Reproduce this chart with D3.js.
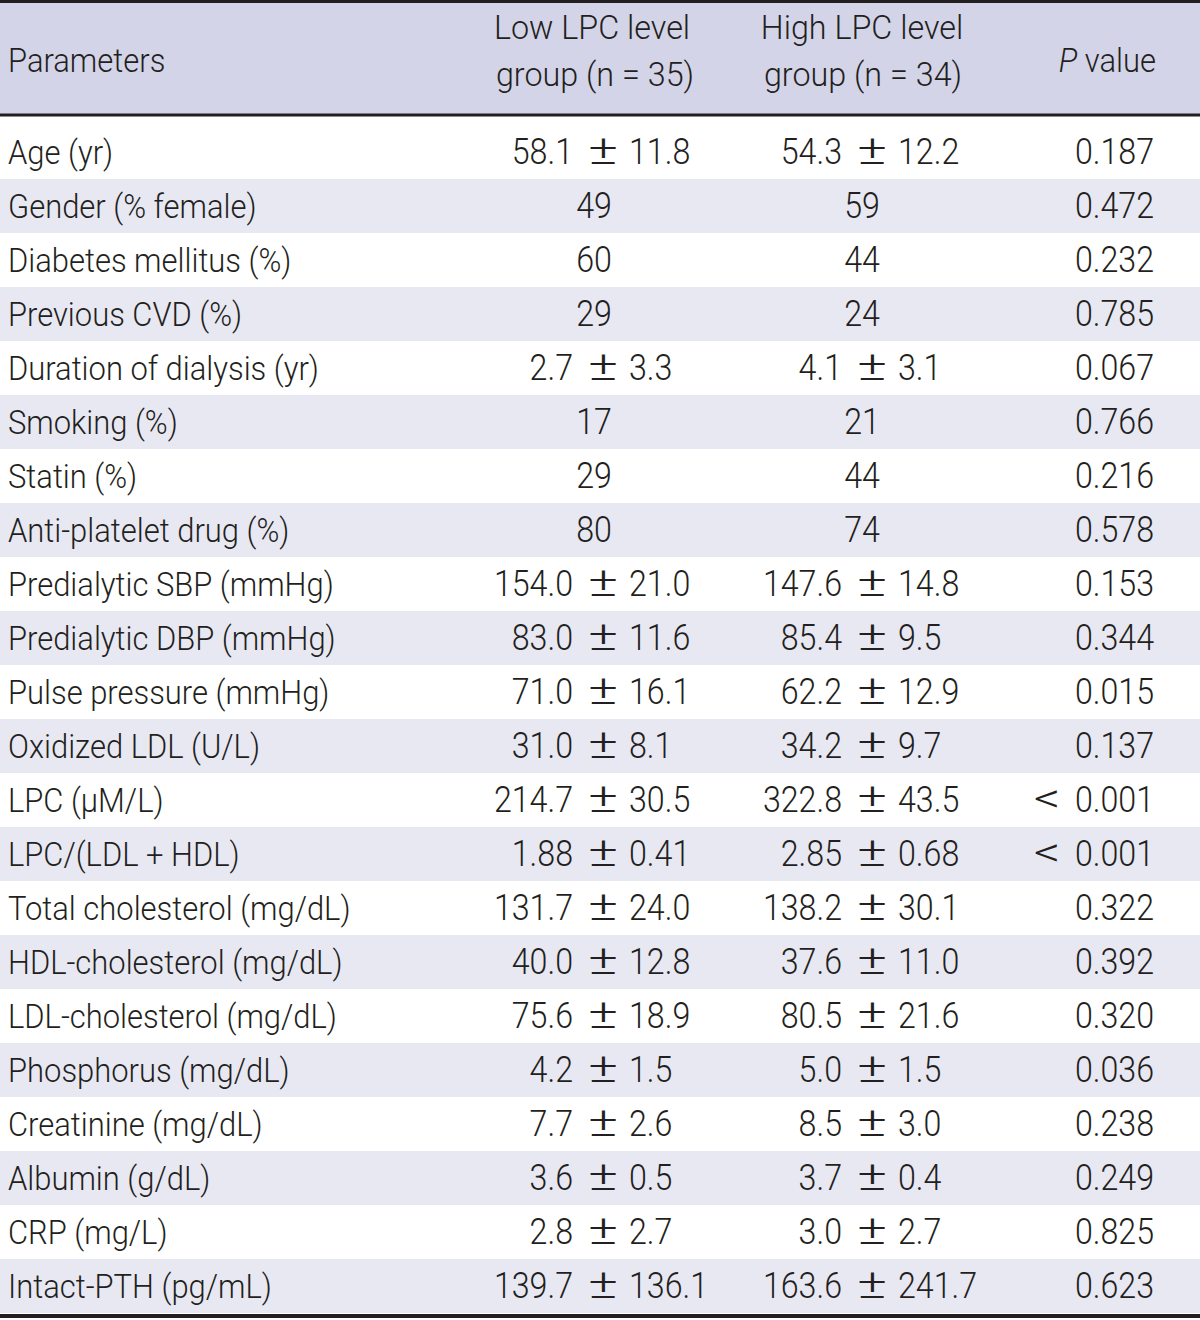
<!DOCTYPE html>
<html>
<head>
<meta charset="utf-8">
<script src="https://cdn.jsdelivr.net/npm/d3@7"></script>
<style>
  html, body { margin: 0; padding: 0; background: #fff; }
  svg { display: block; }
  text { font-family: Roboto, "Liberation Sans", Arial, sans-serif; font-weight: 300; fill: #231f20; }
</style>
</head>
<body>
<svg id="chart" width="1200" height="1320"></svg>
<script>
// ---- data ----
const headers = [
  ["Parameters"],
  ["Low LPC level", "group (n = 35)"],
  ["High LPC level", "group (n = 34)"],
  ["P value"]
];
const parameters = [
  "Age (yr)", "Gender (% female)", "Diabetes mellitus (%)", "Previous CVD (%)",
  "Duration of dialysis (yr)", "Smoking (%)", "Statin (%)", "Anti-platelet drug (%)",
  "Predialytic SBP (mmHg)", "Predialytic DBP (mmHg)", "Pulse pressure (mmHg)",
  "Oxidized LDL (U/L)", "LPC (\u00b5M/L)", "LPC/(LDL + HDL)", "Total cholesterol (mg/dL)",
  "HDL-cholesterol (mg/dL)", "LDL-cholesterol (mg/dL)", "Phosphorus (mg/dL)",
  "Creatinine (mg/dL)", "Albumin (g/dL)", "CRP (mg/L)", "Intact-PTH (pg/mL)"
];
const lowGroup = [
  "58.1 \u00b1 11.8", "49", "60", "29", "2.7 \u00b1 3.3", "17", "29", "80",
  "154.0 \u00b1 21.0", "83.0 \u00b1 11.6", "71.0 \u00b1 16.1", "31.0 \u00b1 8.1",
  "214.7 \u00b1 30.5", "1.88 \u00b1 0.41", "131.7 \u00b1 24.0", "40.0 \u00b1 12.8",
  "75.6 \u00b1 18.9", "4.2 \u00b1 1.5", "7.7 \u00b1 2.6", "3.6 \u00b1 0.5",
  "2.8 \u00b1 2.7", "139.7 \u00b1 136.1"
];
const highGroup = [
  "54.3 \u00b1 12.2", "59", "44", "24", "4.1 \u00b1 3.1", "21", "44", "74",
  "147.6 \u00b1 14.8", "85.4 \u00b1 9.5", "62.2 \u00b1 12.9", "34.2 \u00b1 9.7",
  "322.8 \u00b1 43.5", "2.85 \u00b1 0.68", "138.2 \u00b1 30.1", "37.6 \u00b1 11.0",
  "80.5 \u00b1 21.6", "5.0 \u00b1 1.5", "8.5 \u00b1 3.0", "3.7 \u00b1 0.4",
  "3.0 \u00b1 2.7", "163.6 \u00b1 241.7"
];
const pValues = [
  "0.187", "0.472", "0.232", "0.785", "0.067", "0.766", "0.216", "0.578",
  "0.153", "0.344", "0.015", "0.137", "< 0.001", "< 0.001", "0.322", "0.392",
  "0.320", "0.036", "0.238", "0.249", "0.825", "0.623"
];

// ---- layout ----
const W = 1200;
const ink = "#231f20";
const headerBg = "#d4d4e8";
const stripeBg = "#e8e8f3";
const labelSize = 34, labelSX = 0.91;
const numSize = 37, numSX = 0.87;

const svg = d3.select("#chart");

const y = d3.scaleBand().domain(d3.range(parameters.length)).range([125, 1313]);
const colPM = [603, 872];
const colCenter = [594, 862];

// header band
svg.append("rect").attr("x", 0).attr("y", 0).attr("width", W).attr("height", 116).attr("fill", headerBg);
// stripes
svg.selectAll("rect.stripe").data(d3.range(parameters.length).filter(i => i % 2 === 1))
  .join("rect").attr("class", "stripe")
  .attr("x", 0).attr("y", i => y(i)).attr("width", W).attr("height", y.bandwidth())
  .attr("fill", stripeBg);

// rules
svg.append("rect").attr("x", 0).attr("y", 0).attr("width", W).attr("height", 3).attr("fill", ink);
svg.append("rect").attr("x", 0).attr("y", 113.5).attr("width", W).attr("height", 3).attr("fill", ink);
svg.append("rect").attr("x", 0).attr("y", 1314).attr("width", W).attr("height", 4).attr("fill", ink);

function txt(x, yy, s, size, sx, anchor) {
  return svg.append("text")
    .attr("transform", `translate(${x},${yy}) scale(${sx},1)`)
    .attr("text-anchor", anchor)
    .attr("font-size", size)
    .text(s);
}

// header text
txt(8, 72, headers[0][0], labelSize, labelSX, "start");
txt(colCenter[0] - 2, 39, headers[1][0], labelSize, 0.95, "middle");
txt(colCenter[0] + 1, 86, headers[1][1], labelSize, 0.95, "middle");
txt(colCenter[1], 39, headers[2][0], labelSize, 0.95, "middle");
txt(colCenter[1] + 1, 86, headers[2][1], labelSize, 0.95, "middle");
const ph = svg.append("text")
  .attr("transform", `translate(1156,72) scale(${labelSX},1)`)
  .attr("text-anchor", "end").attr("font-size", labelSize);
ph.append("tspan").attr("font-style", "italic").text("P");
ph.append("tspan").text(" value");

// body
function drawValue(v, i, c) {
  const base = y(i) + 39;
  const parts = v.split(" \u00b1 ");
  if (parts.length === 2) {
    const pm = colPM[c];
    txt(pm - 30, base, parts[0], numSize, numSX, "end");
    txt(pm, base, "\u00b1", 40, 1.4, "middle");
    txt(pm + 26, base, parts[1], numSize, numSX, "start");
  } else {
    txt(colCenter[c], base, v, numSize, numSX, "middle");
  }
}

parameters.forEach((p, i) => {
  const base = y(i) + 39;
  txt(8, base, p, labelSize, labelSX, "start");
  drawValue(lowGroup[i], i, 0);
  drawValue(highGroup[i], i, 1);
  const pv = pValues[i];
  if (pv.startsWith("< ")) {
    txt(1047, base, "<", 40, 1.3, "middle");
    txt(1154, base, pv.slice(2), numSize, numSX, "end");
  } else {
    txt(1154, base, pv, numSize, numSX, "end");
  }
});
</script>
</body>
</html>
